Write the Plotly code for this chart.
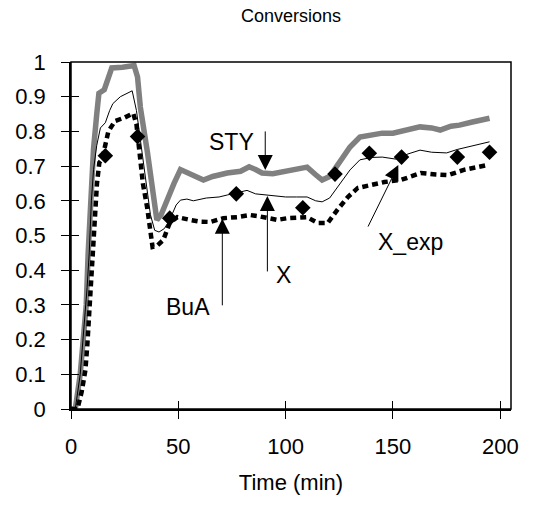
import plotly.graph_objects as go

# STY (thick grey line)
sty_t = [0, 2, 4.3, 5.8, 7.1, 8, 9.3, 10.5, 12, 13, 15.5, 17.8, 19, 24, 29.4, 31, 32.3,
         35.6, 37.9, 40, 42, 45, 48, 51, 55, 61.7, 66, 72.8, 79, 83, 86, 89, 94, 100, 105,
         110, 114, 117, 120.5, 125, 130, 134.6, 140, 145, 150, 156.5, 162.6, 168, 172,
         177, 181, 187, 195]
sty_v = [0, 0, 0.1, 0.2, 0.3, 0.45, 0.65, 0.75, 0.85, 0.91, 0.92, 0.96, 0.983, 0.985, 0.99,
         0.957, 0.87, 0.74, 0.63, 0.545, 0.56, 0.61, 0.65, 0.69, 0.68, 0.66, 0.67, 0.68,
         0.685, 0.698, 0.69, 0.68, 0.678, 0.685, 0.69, 0.697, 0.675, 0.66, 0.67, 0.71,
         0.755, 0.784, 0.79, 0.795, 0.795, 0.804, 0.813, 0.81, 0.804, 0.815, 0.818,
         0.827, 0.838]

# X (thin black line)
x_t = [0, 2, 4.3, 6, 7.5, 8.5, 9.5, 10.5, 12, 13.7, 16, 18, 19.5, 23, 28.5, 30.5, 33, 35,
       37, 39, 41, 43.5, 46, 49, 51, 54, 57, 63, 69, 73, 77, 82, 86, 91, 96, 100, 105, 110,
       114, 117, 120.5, 125, 130, 134.6, 140, 145, 151.5, 157, 162.6, 168, 175, 180, 184.6,
       190, 195]
x_v = [0, 0, 0.1, 0.22, 0.35, 0.45, 0.6, 0.69, 0.76, 0.81, 0.825, 0.86, 0.88, 0.9, 0.917,
       0.86, 0.75, 0.65, 0.56, 0.515, 0.51, 0.52, 0.545, 0.588, 0.602, 0.605, 0.6, 0.608,
       0.611, 0.617, 0.622, 0.63, 0.62, 0.617, 0.612, 0.611, 0.611, 0.611, 0.6, 0.597,
       0.608, 0.645, 0.689, 0.718, 0.725, 0.726, 0.72, 0.735, 0.746, 0.74, 0.738, 0.748,
       0.755, 0.762, 0.77]

# BuA (dotted line)
bua_t = [0, 3, 5, 6.7, 7.6, 8.3, 9, 9.8, 10.5, 11.3, 12.1, 13.2, 14.5, 17.4, 20.5, 25, 29,
         30.5, 32, 33.5, 35.5, 37, 38, 40, 43, 46, 49.5, 55.5, 60, 65, 71, 77.5, 83.5, 88,
         92, 96, 101, 105.6, 110, 115, 119.6, 124, 129, 133.6, 139.7, 146, 153.7, 158, 163,
         170, 175.7, 183, 188, 194]
bua_v = [0, 0, 0.05, 0.112, 0.184, 0.256, 0.334, 0.415, 0.49, 0.57, 0.65, 0.71, 0.72, 0.8,
         0.83, 0.84, 0.852, 0.82, 0.73, 0.65, 0.58, 0.51, 0.467, 0.47, 0.487, 0.536, 0.553,
         0.545, 0.54, 0.539, 0.55, 0.553, 0.559, 0.555, 0.55, 0.545, 0.55, 0.553, 0.553,
         0.536, 0.536, 0.573, 0.611, 0.637, 0.646, 0.654, 0.66, 0.668, 0.68, 0.676, 0.674,
         0.689, 0.695, 0.703]

# X_exp (diamonds)
xexp_t = [16, 31, 46, 77, 108, 123, 139, 154, 180, 195]
xexp_v = [0.73, 0.785, 0.55, 0.62, 0.58, 0.677, 0.737, 0.726, 0.726, 0.74]

x_ticks = [0, 50, 100, 150, 200]
y_ticks = [0, 0.1, 0.2, 0.3, 0.4, 0.5, 0.6, 0.7, 0.8, 0.9, 1]
y_ticklabels = ["0", "0.1", "0.2", "0.3", "0.4", "0.5", "0.6", "0.7", "0.8", "0.9", "1"]

# labels: (text, text pos t, text pos v, arrow tip t, arrow tip v, tail dx, tail dy)
labels = [
    ("STY", 74.7, 0.77, 90.5, 0.689, 0, -40),
    ("X", 99, 0.386, 91.5, 0.614, 0, 77),
    ("BuA", 54.7, 0.294, 70.5, 0.548, 0, 88),
    ("X_exp", 158, 0.481, 152.5, 0.703, -31, 63),
]

fig = go.Figure()
fig.add_trace(go.Scatter(x=sty_t, y=sty_v, mode="lines", name="STY",
                         line=dict(color="#808080", width=5.5)))
fig.add_trace(go.Scatter(x=x_t, y=x_v, mode="lines", name="X",
                         line=dict(color="black", width=1)))
fig.add_trace(go.Scatter(x=bua_t, y=bua_v, mode="lines", name="BuA",
                         line=dict(color="black", width=4.5, dash="6px,4px")))
fig.add_trace(go.Scatter(x=xexp_t, y=xexp_v, mode="markers", name="X_exp",
                         marker=dict(symbol="diamond", size=12, color="black")))

# placeholder trace on the overlay axes so they get drawn (inside half of crossing ticks)
fig.add_trace(go.Scatter(x=[None], y=[None], xaxis="x2", yaxis="y2", mode="lines",
                         showlegend=False, hoverinfo="skip"))

for text, tx, ty, ax_t, ax_v, dx, dy in labels:
    fig.add_annotation(x=tx, y=ty, text=text, showarrow=False,
                       font=dict(size=23, color="black"))
    fig.add_annotation(x=ax_t, y=ax_v, text="", showarrow=True, ax=dx, ay=dy,
                       arrowhead=2, arrowsize=3, arrowwidth=1, arrowcolor="black")

# plot area frame
fig.add_shape(type="rect", xref="paper", yref="paper", x0=0, x1=1, y0=0, y1=1,
              line=dict(color="black", width=1.5), layer="above")

font_family = "Liberation Sans, Arial, sans-serif"
fig.update_layout(
    width=534, height=509,
    margin=dict(l=71, r=23, t=62, b=100),
    paper_bgcolor="white", plot_bgcolor="white",
    showlegend=False,
    font=dict(family=font_family, size=22, color="black"),
    title=dict(text="Conversions", x=0.545, xanchor="center", y=0.97, yanchor="middle",
               font=dict(size=18)),
    xaxis=dict(range=[0, 205], tickvals=x_ticks, showline=True, linecolor="black",
               linewidth=1.5, ticks="outside", ticklen=8, tickcolor="black",
               ticklabelstandoff=9, showgrid=False, zeroline=False, automargin=False,
               title=dict(text="Time (min)", standoff=16, font=dict(size=22))),
    yaxis=dict(range=[0, 1], tickvals=y_ticks, ticktext=y_ticklabels, showline=True,
               linecolor="black", linewidth=1.5, ticks="outside", ticklen=8,
               ticklabelstandoff=11, tickcolor="black", showgrid=False, zeroline=False,
               automargin=False),
    xaxis2=dict(range=[0, 205], tickvals=x_ticks, overlaying="x", anchor="y2",
                side="bottom", ticks="inside", ticklen=8, tickcolor="black",
                tickwidth=1, showticklabels=False, showgrid=False, zeroline=False,
                showline=False, automargin=False),
    yaxis2=dict(range=[0, 1], tickvals=y_ticks, overlaying="y", anchor="x2",
                side="left", ticks="inside", ticklen=8, tickcolor="black",
                tickwidth=1, showticklabels=False, showgrid=False, zeroline=False,
                showline=False, automargin=False),
)

fig.write_html("out.html", config={"displayModeBar": False},
               post_script="document.body.style.margin='0';")
